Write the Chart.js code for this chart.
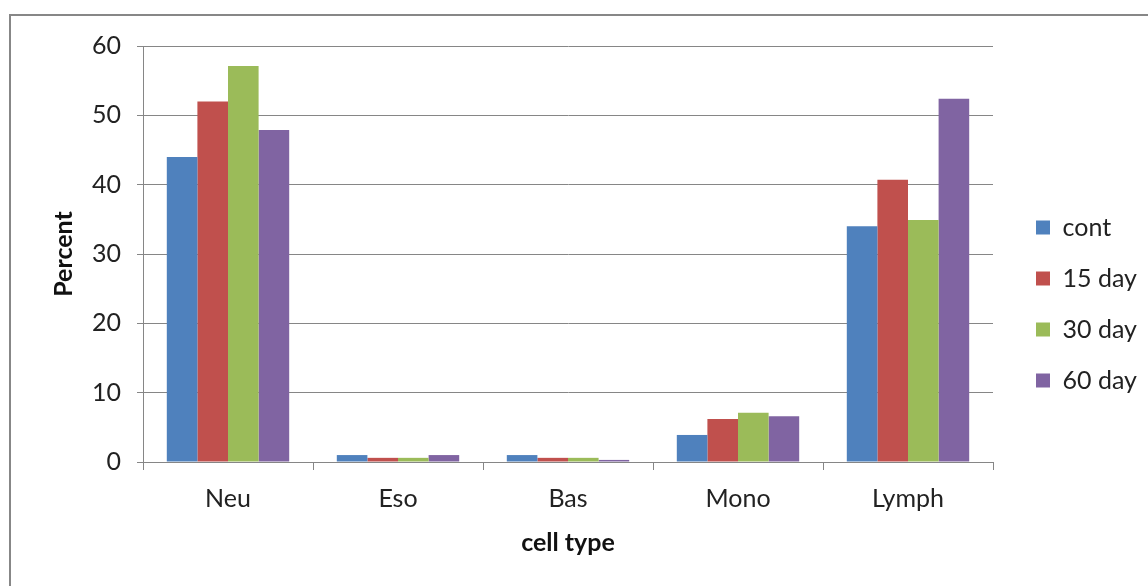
<!DOCTYPE html>
<html>
<head>
<meta charset="utf-8">
<script src="https://cdn.jsdelivr.net/npm/chart.js@4/dist/chart.umd.min.js"></script>
<style>
  html, body { margin: 0; padding: 0; background: #ffffff; }
  #wrap { position: relative; width: 1148px; height: 586px; overflow: hidden; }
  #frame { position: absolute; left: 9px; top: 14px; width: 1200px; height: 700px;
           border: 2px solid #878787; box-sizing: border-box; }
  #chart { position: absolute; left: 0; top: 0; }
</style>
</head>
<body>
<div id="wrap">
  <div id="frame"></div>
  <canvas id="chart" width="1148" height="586"></canvas>
</div>
<script>
// Differential blood cell counts (percent) per sampling time
const categories = ['Neu', 'Eso', 'Bas', 'Mono', 'Lymph'];
const seriesNames = ['cont', '15 day', '30 day', '60 day'];
const contValues  = [44.0, 1.0, 1.0, 3.9, 34.0];
const day15Values = [52.0, 0.6, 0.6, 6.2, 40.7];
const day30Values = [57.1, 0.6, 0.6, 7.1, 34.9];
const day60Values = [47.9, 1.0, 0.3, 6.6, 52.4];
const yTicks = [0, 10, 20, 30, 40, 50, 60];

const seriesValues = [contValues, day15Values, day30Values, day60Values];
const seriesColors = ['#4F81BD', '#C0504D', '#9BBB59', '#8064A2'];

const FONT = 'Lato, "Open Sans", sans-serif';

// Fixed width for the right-hand legend box
const LegendEl = Chart.registry.getPlugin('legend')._element;
const baseFit = LegendEl.prototype.fit;
LegendEl.prototype.fit = function () {
  baseFit.call(this);
  if (!this.isHorizontal()) this.width = 155;
};

// Nudge the legend a little away from the plot area
const legendShift = {
  id: 'legendShift',
  afterLayout(chart) {
    const lg = chart.legend;
    if (lg) { lg.left += 17; lg.right += 17; }
  }
};

new Chart(document.getElementById('chart'), {
  type: 'bar',
  data: {
    labels: categories,
    datasets: seriesNames.map((name, i) => ({
      label: name,
      data: seriesValues[i],
      backgroundColor: seriesColors[i],
      borderWidth: 0,
      categoryPercentage: 0.72,
      barPercentage: 1.0
    }))
  },
  options: {
    responsive: false,
    animation: false,
    layout: { padding: { left: 20, right: 0, top: 46, bottom: 24 } },
    plugins: {
      legend: {
        position: 'right',
        align: 'center',
        labels: {
          boxWidth: 14,
          boxHeight: 14,
          padding: 26,
          color: '#222222',
          font: { family: FONT, size: 25 }
        }
      },
      tooltip: { enabled: false }
    },
    scales: {
      x: {
        afterFit(scale) { scale.height = 100; },
        border: { display: true, color: '#868686', width: 1 },
        grid: {
          display: true,
          offset: true,
          drawOnChartArea: false,
          drawTicks: true,
          tickLength: 8,
          color: '#868686'
        },
        ticks: {
          color: '#222222',
          padding: 14,
          font: { family: FONT, size: 25 }
        },
        title: {
          display: true,
          text: 'cell type',
          color: '#111111',
          padding: { top: 0, bottom: 4 },
          font: { family: FONT, size: 25, weight: 'bold' }
        }
      },
      y: {
        min: 0,
        max: 60,
        afterFit(scale) { scale.width = 123; },
        afterBuildTicks(scale) { scale.ticks = yTicks.map(v => ({ value: v })); },
        border: { display: true, color: '#868686', width: 1 },
        grid: {
          color: '#868686',
          lineWidth: 1,
          drawTicks: true,
          tickLength: 6
        },
        ticks: {
          color: '#222222',
          padding: 16,
          font: { family: FONT, size: 25 }
        },
        title: {
          display: true,
          text: 'Percent',
          color: '#111111',
          padding: { top: 29, bottom: 0 },
          font: { family: FONT, size: 25, weight: 'bold' }
        }
      }
    }
  },
  plugins: [legendShift]
});
</script>
</body>
</html>
